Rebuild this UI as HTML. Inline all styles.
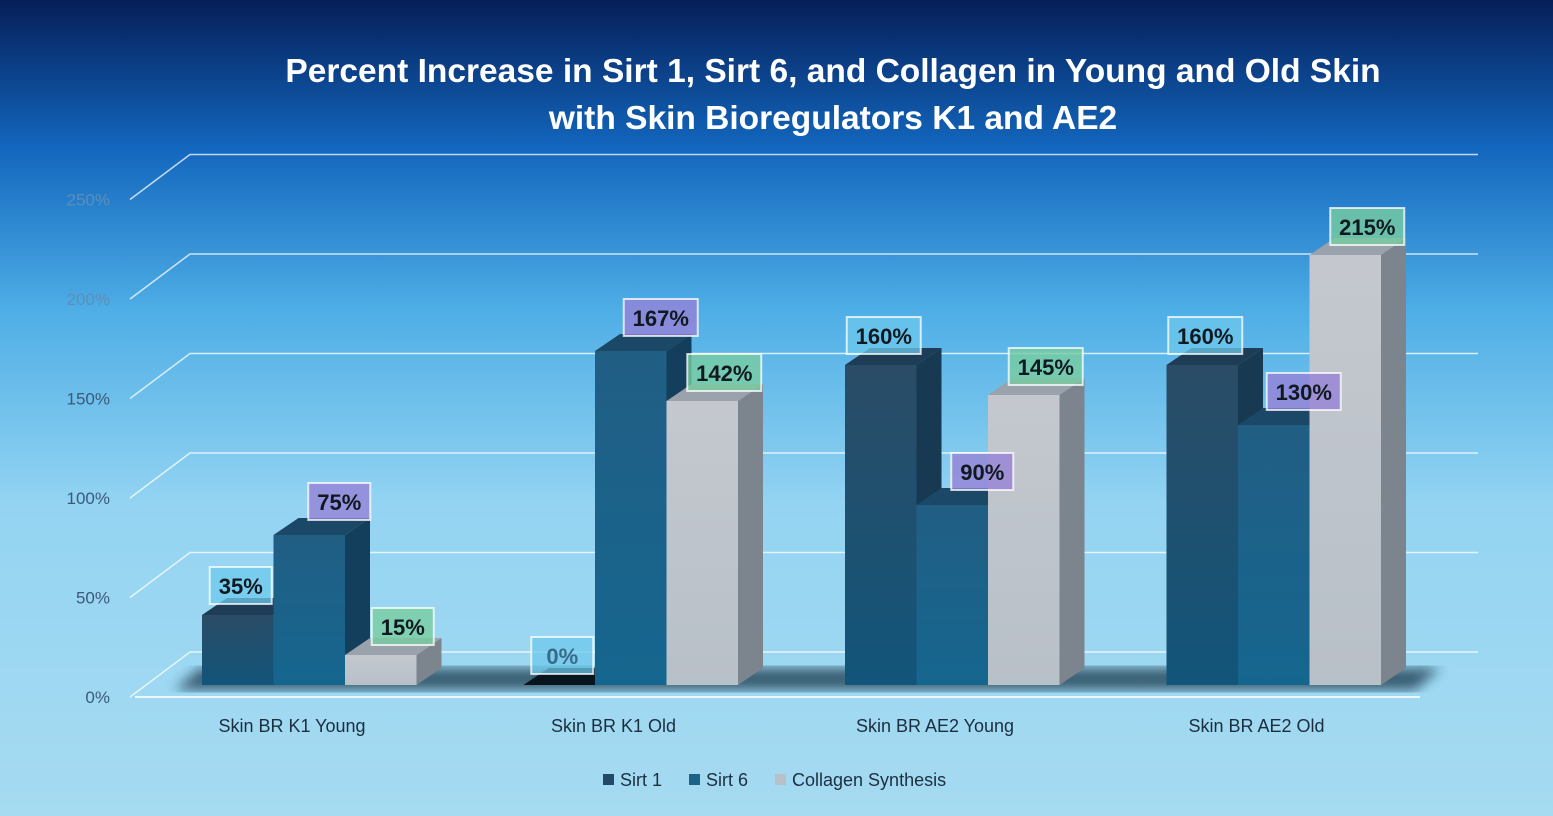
<!DOCTYPE html>
<html><head><meta charset="utf-8"><style>
html,body{margin:0;padding:0;width:1553px;height:816px;overflow:hidden}
svg{display:block}
text{font-family:"Liberation Sans",sans-serif}
</style></head><body>
<svg id="chart" width="1553" height="816" xmlns="http://www.w3.org/2000/svg">
<defs>
<linearGradient id="bg" x1="0" y1="0" x2="0" y2="1">
<stop offset="0" stop-color="#061e58"/><stop offset="0.18" stop-color="#1266bd"/><stop offset="0.38" stop-color="#4eaee6"/><stop offset="0.62" stop-color="#94d4f2"/><stop offset="1" stop-color="#a6dbf1"/>
</linearGradient>
<linearGradient id="g0" x1="0" y1="0" x2="0" y2="1"><stop offset="0" stop-color="#2a4c66"/><stop offset="1" stop-color="#12557a"/></linearGradient>
<linearGradient id="g1" x1="0" y1="0" x2="0" y2="1"><stop offset="0" stop-color="#215e84"/><stop offset="1" stop-color="#15668f"/></linearGradient>
<linearGradient id="g2" x1="0" y1="0" x2="0" y2="1"><stop offset="0" stop-color="#c4c8ce"/><stop offset="1" stop-color="#b8c0c8"/></linearGradient>
<filter id="blur"><feGaussianBlur stdDeviation="6"/></filter>
</defs>
<rect width="1553" height="816" fill="url(#bg)"/>
<text x="833" y="82" text-anchor="middle" font-size="33.5" font-weight="bold" fill="#fff">Percent Increase in Sirt 1, Sirt 6, and Collagen in Young and Old Skin</text>
<text x="833" y="129" text-anchor="middle" font-size="33.5" font-weight="bold" fill="#fff">with Skin Bioregulators K1 and AE2</text>
<g id="grid"></g><g id="floor"></g><g id="bars"></g><g id="labels"></g>
<g>
<rect x="603" y="774" width="11" height="11" fill="#204a66"/>
<text x="620" y="786" font-size="18" fill="#1c2e40">Sirt 1</text>
<rect x="689" y="774" width="11" height="11" fill="#1c6286"/>
<text x="706" y="786" font-size="18" fill="#1c2e40">Sirt 6</text>
<rect x="775" y="774" width="11" height="11" fill="#b8c0c8"/>
<text x="792" y="786" font-size="18" fill="#1c2e40">Collagen Synthesis</text>
</g>
</svg>
<script>
const categories=["Skin BR K1 Young","Skin BR K1 Old","Skin BR AE2 Young","Skin BR AE2 Old"];
const sirt1=[35,0,160,160];
const sirt6=[75,167,90,130];
const collagen=[15,142,145,215];
const yTicks=[0,50,100,150,200,250];
const NS="http://www.w3.org/2000/svg";
const base=685, scale=2, dx=25, dy=-17, bw=71.5, gs=321.5, g0=202;
function yv(v){return base - v*scale;}
function mk(t,a,p){const e=document.createElementNS(NS,t);for(const k in a)e.setAttribute(k,a[k]);p.appendChild(e);return e;}
const grid=document.getElementById('grid');
yTicks.forEach(t=>{
  const yF=697-t*scale*0.995;
  const l=mk('polyline',{points:`130,${yF} 190,${yF-45} 1478,${yF-45}`,fill:'none',stroke:'rgba(255,255,255,0.75)','stroke-width':1.5},grid);
  
  
  const tx=mk('text',{x:110,y:yF+6,'text-anchor':'end','font-size':17,fill:t>=200?'#5d8fb8':'#3c5a78'},grid);
  tx.textContent=t+'%';
  
  
});
const fl=mk('line',{x1:135,y1:697,x2:1420,y2:697,stroke:'rgba(255,255,255,0.8)','stroke-width':2},grid);


const floor=document.getElementById('floor');
const sh=mk('polygon',{points:`175,690 200,668 1440,668 1415,690`,fill:'#0d2a3e',opacity:0.7,filter:'url(#blur)'},floor);


const series=[{n:'sirt1',d:sirt1,f:'url(#g0)',top:'#1e3c55',side:'#173a52',lb:'rgba(110,200,236,0.75)',ox:3,oy:-11},
{n:'sirt6',d:sirt6,f:'url(#g1)',top:'#1a4866',side:'#143f5c',lb:'rgba(150,130,215,0.8)',ox:30,oy:-15},
{n:'collagen',d:collagen,f:'url(#g2)',top:'#9aa2ac',side:'#7c848e',lb:'rgba(120,205,160,0.8)',ox:22,oy:-10}];
const bars=document.getElementById('bars'),labels=document.getElementById('labels');
categories.forEach((c,i)=>{
  const ct=mk('text',{x:g0+i*gs+90,y:732,'text-anchor':'middle','font-size':18,fill:'#1c2e40'},grid);
  ct.textContent=c;
  
  
  series.forEach((s,j)=>{
    const v=s.d[i],x=g0+i*gs+j*bw,yt=yv(v);
    const g=mk('g',{},bars);
    
    
    const h=Math.max(base-yt,1);
    mk('polygon',{points:`${x+bw},${yt} ${x+bw+dx},${yt+dy} ${x+bw+dx},${base+dy} ${x+bw},${base}`,fill:s.side},g);
    mk('polygon',{points:`${x},${yt} ${x+dx},${yt+dy} ${x+bw+dx},${yt+dy} ${x+bw},${yt}`,fill:v===0?'#08141e':s.top},g);
    if(v>0) mk('rect',{x:x,y:yt,width:bw,height:h,fill:s.f},g);
    const lx=x+bw/2+s.ox, ly=yt+s.oy;
    const bwid=String(v).length>=3?74:62;
    const lg=mk('g',{},labels);
    
    
    mk('rect',{x:lx-bwid/2,y:ly-37,width:bwid,height:37,fill:s.lb,stroke:'rgba(255,255,255,0.75)','stroke-width':2},lg);
    const t=mk('text',{x:lx,y:ly-10,'text-anchor':'middle','font-size':22,'font-weight':'bold',fill:v===0?'#3a6a8a':'#101820'},lg);
    t.textContent=v+'%';
  });
});
</script>
</body></html>
